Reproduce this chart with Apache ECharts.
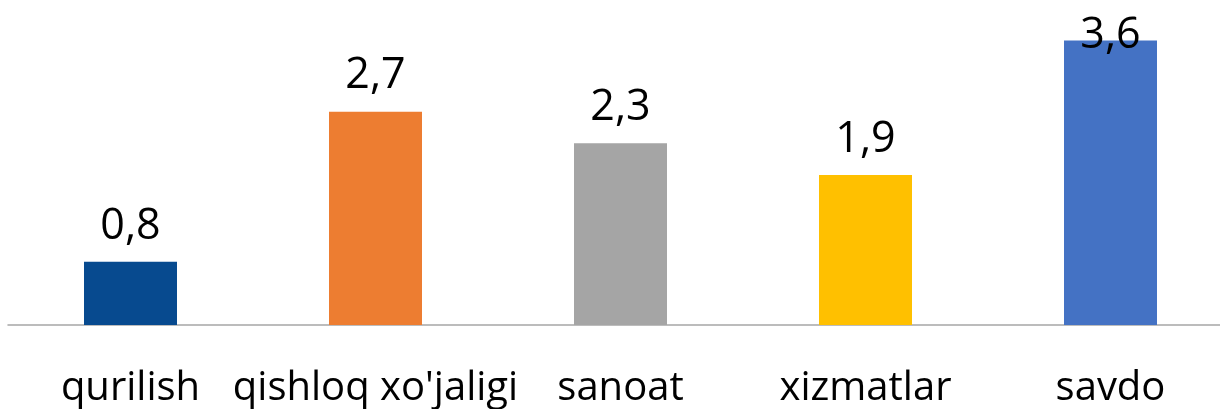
<!DOCTYPE html>
<html>
<head>
<meta charset="utf-8">
<script src="https://cdn.jsdelivr.net/npm/echarts@6/dist/echarts.min.js"></script>
<style>
  html, body { margin: 0; padding: 0; background: #fff; }
  #chart { width: 1220px; height: 409px; }
</style>
</head>
<body>
<div id="chart"></div>
<script>
// 数据
const categories = ['qurilish', "qishloq xo'jaligi", 'sanoat', 'xizmatlar', 'savdo'];
const values = [0.8, 2.7, 2.3, 1.9, 3.6];
const colors = ['#074a8f', '#ed7d31', '#a5a5a5', '#ffc000', '#4472c4'];

const chart = echarts.init(document.getElementById('chart'));

const seriesData = values.map((v, i) => {
  let item = { value: v, itemStyle: { color: colors[i] } };
  // 最高的柱子标签往下挪，避免超出画布
  if (v === 3.6) item.label = { offset: [0, 31] };
  return item;
});

chart.setOption({
  animation: false,
  grid: { left: 8, right: -13, top: 9, bottom: 84, outerBoundsMode: 'none', containLabel: false },
  xAxis: {
    type: 'category',
    data: categories,
    axisLine: { lineStyle: { color: '#a6a6a6', width: 1.5 } },
    axisTick: { show: false },
    axisLabel: {
      interval: 0,
      margin: 44,
      color: '#000',
      fontFamily: 'Open Sans',
      fontSize: 40
    }
  },
  yAxis: {
    type: 'value',
    min: 0,
    max: 4,
    show: false,
    splitLine: { show: false }
  },
  series: [{
    type: 'bar',
    data: seriesData,
    barWidth: 93,
    label: {
      show: true,
      position: 'top',
      distance: 14,
      color: '#000',
      fontFamily: 'Open Sans',
      fontSize: 43,
      formatter: (p) => String(p.value).replace('.', ',')
    }
  }]
});
</script>
</body>
</html>
